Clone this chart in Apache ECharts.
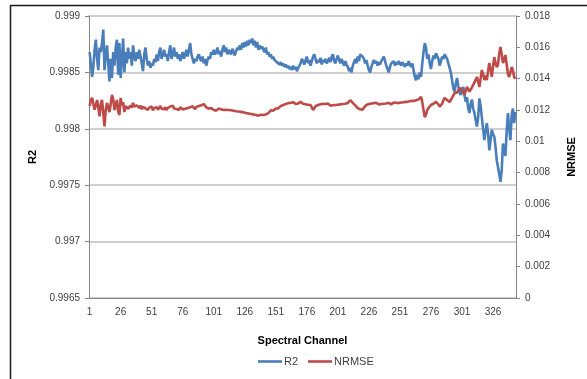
<!DOCTYPE html>
<html>
<head>
<meta charset="utf-8">
<script src="https://cdn.jsdelivr.net/npm/echarts@6/dist/echarts.min.js"></script>
<style>
html,body{margin:0;padding:0;background:#fff;}
#chart{width:587px;height:379px;}
</style>
</head>
<body>
<div id="chart"></div>
<script>
const channelCount = 344;
const xLabelStep = 25;

const r2 = [
0.99868,0.99858,0.99846,0.99855,0.99870,0.99879,0.99862,0.99852,0.99872,0.99868,
0.99876,0.99888,0.99852,0.99866,0.99874,0.99858,0.99842,0.99862,0.99845,0.99868,
0.99856,0.99872,0.99879,0.99848,0.99876,0.99845,0.99862,0.99880,0.99850,0.99868,
0.99858,0.99872,0.99862,0.99868,0.99856,0.99874,0.99864,0.99860,0.99868,0.99862,
0.99870,0.99864,0.99858,0.99851,0.99866,0.99872,0.99862,0.99856,0.99860,0.99854,
0.99858,0.99856,0.99862,0.99859,0.99866,0.99860,0.99868,0.99872,0.99862,0.99866,
0.99870,0.99864,0.99866,0.99860,0.99868,0.99874,0.99862,0.99866,0.99872,0.99864,
0.99868,0.99862,0.99866,0.99860,0.99864,0.99868,0.99862,0.99866,0.99870,0.99864,
0.99870,0.99876,0.99866,0.99862,0.99858,0.99862,0.99860,0.99864,0.99866,0.99862,
0.99860,0.99864,0.99858,0.99862,0.99856,0.99861,0.99864,0.99862,0.99868,0.99866,
0.99870,0.99866,0.99868,0.99872,0.99866,0.99869,0.99864,0.99870,0.99874,0.99868,
0.99872,0.99866,0.99870,0.99868,0.99866,0.99871,0.99868,0.99865,0.99869,0.99872,
0.99870,0.99874,0.99870,0.99876,0.99872,0.99877,0.99873,0.99878,0.99874,0.99879,
0.99876,0.99880,0.99874,0.99878,0.99872,0.99877,0.99870,0.99874,0.99871,0.99873,
0.99870,0.99868,0.99872,0.99866,0.99868,0.99864,0.99866,0.99862,0.99864,0.99861,
0.99862,0.99859,0.99860,0.99857,0.99859,0.99856,0.99858,0.99855,0.99857,0.99854,
0.99856,0.99853,0.99855,0.99852,0.99856,0.99853,0.99855,0.99851,0.99854,0.99856,
0.99858,0.99862,0.99860,0.99857,0.99861,0.99864,0.99858,0.99861,0.99856,0.99860,
0.99864,0.99866,0.99862,0.99858,0.99861,0.99859,0.99863,0.99857,0.99861,0.99859,
0.99862,0.99858,0.99860,0.99863,0.99859,0.99864,0.99866,0.99860,0.99858,0.99862,
0.99865,0.99861,0.99858,0.99862,0.99859,0.99856,0.99860,0.99857,0.99855,0.99851,
0.99854,0.99850,0.99856,0.99859,0.99862,0.99858,0.99864,0.99860,0.99866,0.99867,
0.99864,0.99862,0.99858,0.99861,0.99856,0.99852,0.99850,0.99855,0.99858,0.99861,
0.99858,0.99860,0.99856,0.99859,0.99857,0.99860,0.99862,0.99864,0.99860,0.99856,
0.99853,0.99850,0.99855,0.99858,0.99857,0.99860,0.99856,0.99859,0.99857,0.99860,
0.99858,0.99856,0.99859,0.99857,0.99855,0.99858,0.99856,0.99860,0.99857,0.99855,
0.99858,0.99852,0.99846,0.99843,0.99848,0.99844,0.99850,0.99846,0.99858,0.99868,
0.99876,0.99872,0.99862,0.99866,0.99858,0.99853,0.99860,0.99865,0.99862,0.99867,
0.99868,0.99862,0.99856,0.99860,0.99864,0.99862,0.99866,0.99867,0.99862,0.99858,
0.99857,0.99850,0.99843,0.99836,0.99833,0.99840,0.99845,0.99838,0.99832,0.99830,
0.99834,0.99837,0.99830,0.99824,0.99828,0.99818,0.99814,0.99822,0.99826,0.99818,
0.99814,0.99808,0.99802,0.99810,0.99827,0.99820,0.99810,0.99800,0.99790,0.99798,
0.99805,0.99796,0.99781,0.99790,0.99799,0.99795,0.99793,0.99784,0.99772,0.99766,
0.99760,0.99753,0.99763,0.99787,0.99781,0.99776,0.99798,0.99814,0.99800,0.99790,
0.99812,0.99818,0.99805,0.99815
];

const nrmse = [
0.01225,0.01262,0.01278,0.01240,0.01202,0.01230,0.01264,0.01215,0.01160,0.01238,
0.01264,0.01180,0.01095,0.01200,0.01245,0.01215,0.01187,0.01240,0.01296,0.01270,
0.01200,0.01232,0.01264,0.01190,0.01168,0.01277,0.01230,0.01250,0.01187,0.01225,
0.01232,0.01208,0.01200,0.01228,0.01215,0.01245,0.01222,0.01210,0.01230,0.01218,
0.01213,0.01228,0.01205,0.01220,0.01232,0.01210,0.01218,0.01200,0.01215,0.01208,
0.01222,0.01198,0.01212,0.01206,0.01218,0.01202,0.01214,0.01225,0.01208,0.01212,
0.01205,0.01218,0.01200,0.01214,0.01208,0.01222,0.01212,0.01228,0.01210,0.01216,
0.01206,0.01214,0.01200,0.01218,0.01210,0.01204,0.01216,0.01208,0.01198,0.01212,
0.01205,0.01218,0.01210,0.01224,0.01214,0.01206,0.01220,0.01212,0.01226,0.01218,
0.01230,0.01222,0.01238,0.01226,0.01216,0.01222,0.01210,0.01204,0.01212,0.01206,
0.01200,0.01208,0.01196,0.01205,0.01210,0.01198,0.01204,0.01192,0.01200,0.01195,
0.01202,0.01194,0.01200,0.01190,0.01198,0.01188,0.01195,0.01185,0.01192,0.01186,
0.01190,0.01182,0.01188,0.01178,0.01185,0.01175,0.01180,0.01172,0.01178,0.01168,
0.01175,0.01165,0.01172,0.01162,0.01168,0.01158,0.01164,0.01160,0.01170,0.01162,
0.01168,0.01176,0.01172,0.01184,0.01180,0.01192,0.01198,0.01202,0.01196,0.01205,
0.01210,0.01215,0.01210,0.01222,0.01226,0.01220,0.01232,0.01228,0.01238,0.01232,
0.01244,0.01238,0.01246,0.01240,0.01250,0.01244,0.01238,0.01248,0.01242,0.01250,
0.01252,0.01246,0.01240,0.01248,0.01236,0.01242,0.01234,0.01240,0.01232,0.01238,
0.01200,0.01212,0.01224,0.01218,0.01232,0.01226,0.01236,0.01228,0.01240,0.01232,
0.01238,0.01230,0.01242,0.01234,0.01228,0.01236,0.01230,0.01238,0.01232,0.01240,
0.01234,0.01242,0.01236,0.01244,0.01238,0.01248,0.01240,0.01250,0.01245,0.01256,
0.01262,0.01254,0.01246,0.01238,0.01230,0.01222,0.01212,0.01220,0.01205,0.01212,
0.01202,0.01215,0.01224,0.01232,0.01228,0.01238,0.01232,0.01242,0.01236,0.01244,
0.01238,0.01246,0.01240,0.01236,0.01244,0.01238,0.01246,0.01240,0.01248,0.01242,
0.01238,0.01246,0.01240,0.01236,0.01242,0.01248,0.01240,0.01246,0.01238,0.01244,
0.01240,0.01248,0.01242,0.01250,0.01244,0.01252,0.01246,0.01254,0.01250,0.01258,
0.01266,0.01258,0.01270,0.01262,0.01274,0.01268,0.01280,0.01284,0.01250,0.01200,
0.01155,0.01170,0.01200,0.01213,0.01220,0.01232,0.01226,0.01240,0.01248,0.01252,
0.01250,0.01236,0.01222,0.01219,0.01240,0.01262,0.01277,0.01268,0.01264,0.01256,
0.01251,0.01262,0.01278,0.01290,0.01308,0.01298,0.01312,0.01325,0.01335,0.01340,
0.01325,0.01310,0.01296,0.01322,0.01347,0.01335,0.01318,0.01315,0.01345,0.01360,
0.01372,0.01392,0.01411,0.01380,0.01347,0.01402,0.01455,0.01430,0.01391,0.01420,
0.01391,0.01450,0.01500,0.01460,0.01411,0.01475,0.01538,0.01500,0.01474,0.01490,
0.01560,0.01602,0.01555,0.01500,0.01525,0.01551,0.01490,0.01430,0.01411,0.01440,
0.01474,0.01455,0.01410,0.01400
];

const channels = [];
for (let i = 1; i <= channelCount; i++) channels.push(String(i));

const leftTicks = { min: 0.9965, max: 0.999, step: 0.0005 };
const rightTicks = { min: 0, max: 0.018, step: 0.002 };

const axisGray = '#868686';
const textGray = '#404040';
const font = 'Liberation Sans, Arial, sans-serif';

const chart = echarts.init(document.getElementById('chart'), null, { renderer: 'canvas' });
chart.setOption({
  animation: false,
  backgroundColor: '#fff',
  textStyle: { fontFamily: font },
  grid: { left: 89, right: 71, top: 16, bottom: 81, containLabel: false },
  legend: {
    data: ['R2', 'NRMSE'],
    left: 253, top: 351,
    itemWidth: 24, itemHeight: 8, itemGap: 10,
    textStyle: { fontSize: 11, color: textGray, fontFamily: font, padding: [0,0,0,-3] },
    icon: 'path://M0,0 L24,0 L24,2.6 L0,2.6 Z'
  },
  xAxis: {
    type: 'category',
    data: channels,
    boundaryGap: true,
    name: 'Spectral Channel',
    nameLocation: 'middle',
    nameGap: 37,
    nameTextStyle: { fontSize: 11, fontWeight: 'bold', color: '#000', fontFamily: font },
    axisLine: { lineStyle: { color: axisGray, width: 1 } },
    axisTick: { interval: 0, length: 4, lineStyle: { color: axisGray } },
    axisLabel: { interval: xLabelStep - 1, fontSize: 10, color: textGray, margin: 9, fontFamily: font },
    splitLine: { show: false }
  },
  yAxis: [
    {
      type: 'value',
      min: leftTicks.min, max: leftTicks.max, interval: leftTicks.step,
      name: 'R2',
      nameLocation: 'middle', nameRotate: 90, nameGap: 50,
      nameTextStyle: { fontSize: 11, fontWeight: 'bold', color: '#000', fontFamily: font },
      axisLine: { show: true, lineStyle: { color: axisGray } },
      axisTick: { show: true, length: 4, lineStyle: { color: axisGray } },
      axisLabel: { fontSize: 10, color: textGray, margin: 9, fontFamily: font,
        formatter: v => String(+(+v).toFixed(4)) },
      splitLine: { show: true, lineStyle: { color: '#bfbfbf', width: 1.5 } }
    },
    {
      type: 'value',
      min: rightTicks.min, max: rightTicks.max, interval: rightTicks.step,
      name: 'NRMSE',
      nameLocation: 'middle', nameRotate: 90, nameGap: 50,
      nameTextStyle: { fontSize: 11, fontWeight: 'bold', color: '#000', fontFamily: font },
      axisLine: { show: true, lineStyle: { color: axisGray } },
      axisTick: { show: true, length: 4, lineStyle: { color: axisGray } },
      axisLabel: { fontSize: 10, color: textGray, margin: 9, fontFamily: font,
        formatter: v => String(+(+v).toFixed(3)) },
      splitLine: { show: false }
    }
  ],
  series: [
    {
      name: 'R2', type: 'line', yAxisIndex: 0, data: r2,
      symbol: 'none', smooth: false,
      lineStyle: { color: '#4a7ebb', width: 2.6 },
      itemStyle: { color: '#4a7ebb' }
    },
    {
      name: 'NRMSE', type: 'line', yAxisIndex: 1, data: nrmse,
      symbol: 'none', smooth: false,
      lineStyle: { color: '#be4b48', width: 2.6 },
      itemStyle: { color: '#be4b48' }
    }
  ],
  graphic: [
    { type: 'line', shape: { x1: 10, y1: 5.5, x2: 587, y2: 5.5 }, style: { stroke: '#1a1a1a', lineWidth: 1.5 } },
    { type: 'line', shape: { x1: 10.5, y1: 5, x2: 10.5, y2: 379 }, style: { stroke: '#1a1a1a', lineWidth: 1.5 } }
  ]
});
</script>
</body>
</html>
